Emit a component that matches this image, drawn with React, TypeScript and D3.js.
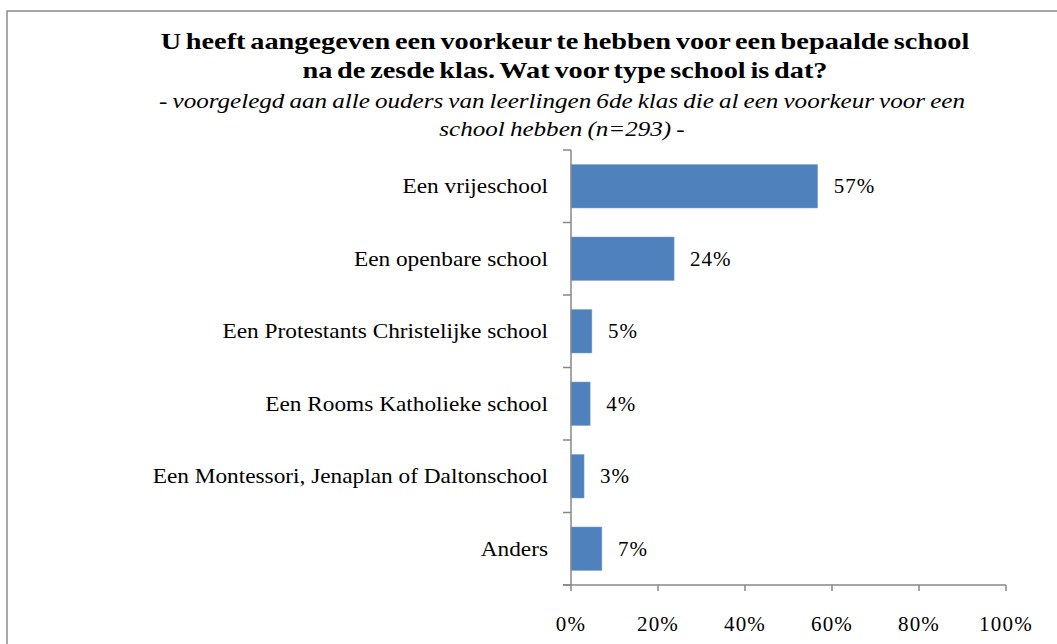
import React from "react";
import * as d3 from "d3";

const categories = [
  "Een vrijeschool",
  "Een openbare school",
  "Een Protestants Christelijke school",
  "Een Rooms Katholieke school",
  "Een Montessori, Jenaplan of Daltonschool",
  "Anders",
];
const values = [56.7, 23.7, 4.8, 4.4, 3.0, 7.1];
const valueLabels = ["57%", "24%", "5%", "4%", "3%", "7%"];
const xTicks = [0, 20, 40, 60, 80, 100];
const titleLines = [
  "U heeft aangegeven een voorkeur te hebben voor een bepaalde school",
  "na de zesde klas. Wat voor type school is dat?",
];
const subtitleLines = [
  "- voorgelegd aan alle ouders van leerlingen 6de klas die al een voorkeur voor een",
  "school hebben (n=293) -",
];

const W = 1057;
const H = 644;
const FONT = "'Liberation Serif', 'Times New Roman', serif";
const AXIS = "#878787";
const BAR = "#4F81BD";

export default function App() {
  const x = d3.scaleLinear().domain([0, 100]).range([571, 1006]);
  const y = d3
    .scaleBand<string>()
    .domain(categories)
    .range([150, 585])
    .paddingInner(0.4)
    .paddingOuter(0.2);
  const step = y.step();
  const boundaries = d3.range(categories.length + 1).map((i) => 150 + i * step);

  return (
    <svg
      width={W}
      height={H}
      style={{ position: "fixed", left: 0, top: 0, background: "#fff" }}
      fontFamily={FONT}
    >
      <rect x={0} y={0} width={W} height={H} fill="#fff" />
      <rect x={7} y={11} width={1200} height={800} fill="none" stroke="#8a8a8a" strokeWidth={1.5} />

      {titleLines.map((t, i) => (
        <text
          key={"t" + i}
          transform={`translate(565,${49 + i * 29}) scale(1.18,1)`}
          textAnchor="middle"
          fontWeight="bold"
          fontSize={24}
          wordSpacing={-2}
          fill="#000"
        >
          {t}
        </text>
      ))}
      {subtitleLines.map((t, i) => (
        <text
          key={"s" + i}
          transform={`translate(562,${108 + i * 28}) scale(1.14,1)`}
          textAnchor="middle"
          fontStyle="italic"
          fontSize={22}
          wordSpacing={-1}
          fill="#000"
        >
          {t}
        </text>
      ))}

      {categories.map((c, i) => (
        <rect
          key={"b" + i}
          x={x(0)}
          y={y(c)!}
          width={x(values[i]) - x(0)}
          height={y.bandwidth()}
          fill={BAR}
          stroke="#7ea3d2"
          strokeWidth={0.5}
        />
      ))}

      {categories.map((c, i) => (
        <text
          key={"v" + i}
          x={x(values[i]) + 16}
          y={y(c)! + y.bandwidth() / 2}
          dominantBaseline="central"
          fontSize={21}
          letterSpacing={1}
          fill="#000"
        >
          {valueLabels[i]}
        </text>
      ))}

      {categories.map((c, i) => (
        <text
          key={"c" + i}
          transform={`translate(548,${y(c)! + y.bandwidth() / 2}) scale(1.11,1)`}
          textAnchor="end"
          dominantBaseline="central"
          fontSize={21}
          fill="#000"
        >
          {c}
        </text>
      ))}

      <line x1={x(0)} x2={x(0)} y1={150} y2={585} stroke={AXIS} strokeWidth={1.5} />
      {boundaries.map((b, i) => (
        <line key={"yt" + i} x1={563} x2={x(0)} y1={b} y2={b} stroke={AXIS} strokeWidth={1.5} />
      ))}
      <line x1={563} x2={x(100)} y1={585} y2={585} stroke={AXIS} strokeWidth={1.5} />
      {xTicks.map((t) => (
        <g key={"xt" + t}>
          <line x1={x(t)} x2={x(t)} y1={585} y2={591} stroke={AXIS} strokeWidth={1.5} />
          <text x={x(t)} y={631} textAnchor="middle" fontSize={21} letterSpacing={1.2} fill="#000">
            {t + "%"}
          </text>
        </g>
      ))}
    </svg>
  );
}
